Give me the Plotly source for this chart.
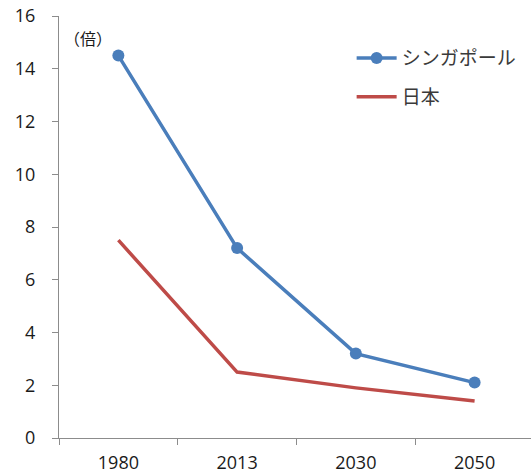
import plotly.graph_objects as go

years = ["1980", "2013", "2030", "2050"]
singapore = [14.5, 7.2, 3.2, 2.1]
japan = [7.5, 2.5, 1.9, 1.4]
y_ticks = [0, 2, 4, 6, 8, 10, 12, 14, 16]

FONT = "Noto Sans CJK JP, Noto Sans, sans-serif"
NUM_FONT = "Open Sans, Noto Sans, sans-serif"
BLUE = "#4a7ebb"
RED = "#be4b48"
AXIS = "#8c8c8c"
TEXT = "#1a1a1a"
LEGEND_TEXT = "#3a3a3a"

fig = go.Figure()
fig.add_trace(go.Scatter(
    x=years, y=singapore, name="シンガポール", mode="lines+markers",
    line=dict(color=BLUE, width=3.5), marker=dict(color=BLUE, size=12),
    legendgroup="a",
))
fig.add_trace(go.Scatter(
    x=years, y=japan, name="日本", mode="lines",
    line=dict(color=RED, width=3.5),
    legendgroup="b",
))

fig.update_layout(
    width=531, height=475,
    margin=dict(l=59, r=0, t=16, b=37),
    paper_bgcolor="white", plot_bgcolor="white",
    font=dict(family=FONT, color=TEXT),
    showlegend=True,
    legend=dict(
        x=0.62, y=0.945, xanchor="left", yanchor="top",
        font=dict(size=19, color=LEGEND_TEXT, family=FONT),
        bgcolor="rgba(0,0,0,0)", tracegroupgap=11,
        itemwidth=40,
    ),
    xaxis=dict(
        type="category", range=[-0.5, 3.475], automargin=False,
        showline=True, linecolor=AXIS, linewidth=1,
        ticks="outside", tickson="boundaries", ticklen=6, tickcolor=AXIS,
        tickfont=dict(size=18, color=TEXT, family=NUM_FONT), ticklabelstandoff=8,
        showgrid=False, zeroline=False,
    ),
    yaxis=dict(
        range=[0, 16], tickvals=y_ticks, automargin=False,
        showline=True, linecolor=AXIS, linewidth=1,
        ticks="outside", ticklen=6, tickcolor=AXIS,
        tickfont=dict(size=18, color=TEXT, family=NUM_FONT), ticklabelstandoff=13,
        showgrid=False, zeroline=False,
    ),
)

fig.add_annotation(
    text="（倍）", xref="paper", yref="paper", x=0.0, y=0.947,
    xanchor="left", yanchor="middle", showarrow=False,
    font=dict(size=16, color=TEXT, family=FONT), xshift=3,
)

fig.write_html("out.html")
